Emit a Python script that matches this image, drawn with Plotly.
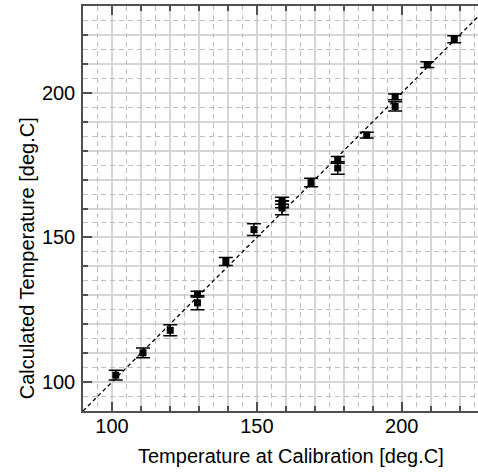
import plotly.graph_objects as go

# Data
x_cal = [101.3, 110.7, 120.1, 129.5, 129.5, 139.3, 149.0, 158.7, 158.7, 158.7,
         168.7, 177.9, 177.9, 187.9, 197.7, 197.7, 208.8, 218.1]
y_calc = [102.4, 110.1, 117.9, 130.4, 127.4, 141.7, 152.7, 162.7, 161.5, 160.2,
          169.0, 176.8, 174.0, 185.4, 198.6, 195.3, 209.7, 218.5]
y_err = [1.7, 1.7, 1.9, 1.0, 2.4, 1.4, 2.0, 1.2, 1.2, 2.4,
         1.5, 1.2, 2.2, 1.0, 1.0, 1.6, 1.0, 1.2]
ident = [90, 230]

x_title = "Temperature at Calibration [deg.C]"
y_title = "Calculated Temperature [deg.C]"

x_range = [90, 226.3]
y_range = [90, 230]

axis_col = "#505050"
major_grid = "#d6d6d6"
minor_grid = "#bdbdbd"
font = dict(family="Liberation Sans, Arial, sans-serif", size=20, color="black")

fig = go.Figure()

# invisible trace to create overlay axes for dashed half-grid
fig.add_trace(go.Scatter(x=[None], y=[None], xaxis="x2", yaxis="y2",
                         showlegend=False, hoverinfo="skip"))

fig.add_trace(go.Scatter(
    x=ident, y=ident, mode="lines",
    line=dict(color="black", width=1.3, dash="4px,3px"),
    showlegend=False, hoverinfo="skip"))

fig.add_trace(go.Scatter(
    x=x_cal, y=y_calc, mode="markers",
    marker=dict(symbol="square", size=7, color="black"),
    error_y=dict(type="data", array=y_err, visible=True,
                 color="black", thickness=1.5, width=7),
    showlegend=False))

common = dict(showline=True, linecolor=axis_col, linewidth=1.5,
              ticks="inside", ticklen=9, tickwidth=1.5, tickcolor=axis_col,
              dtick=50, tick0=0, showgrid=True, gridcolor=major_grid,
              gridwidth=1.5, zeroline=False, tickfont=font,
              minor=dict(dtick=10, tick0=0, ticks="inside", ticklen=5,
                         tickwidth=1.5, tickcolor=axis_col, showgrid=True,
                         gridcolor=major_grid, gridwidth=1.5))

half = dict(showline=False, ticks="", showticklabels=False, tick0=5, dtick=10,
            showgrid=True, gridcolor=minor_grid, gridwidth=1, griddash="5px,4px",
            zeroline=False)

fig.update_layout(
    width=478, height=472,
    margin=dict(l=83, r=0, t=6, b=61),
    paper_bgcolor="white", plot_bgcolor="white",
    font=font,
    xaxis=dict(range=x_range, mirror="ticks", ticklabelstandoff=-4, **common),
    yaxis=dict(range=y_range, mirror=False, ticklabelstandoff=2, **common),
    xaxis2=dict(range=x_range, overlaying="x", anchor="y", **half),
    yaxis2=dict(range=y_range, overlaying="y", anchor="x", **half),
    annotations=[
        dict(text=x_title, xref="paper", yref="paper", x=0.527, y=-0.111,
             xanchor="center", yanchor="middle", showarrow=False, font=font),
        dict(text=y_title, xref="paper", yref="paper", x=-0.142, y=0.377,
             xanchor="center", yanchor="middle", textangle=-90,
             showarrow=False, font=font),
    ],
)

fig.write_html("out.html")
